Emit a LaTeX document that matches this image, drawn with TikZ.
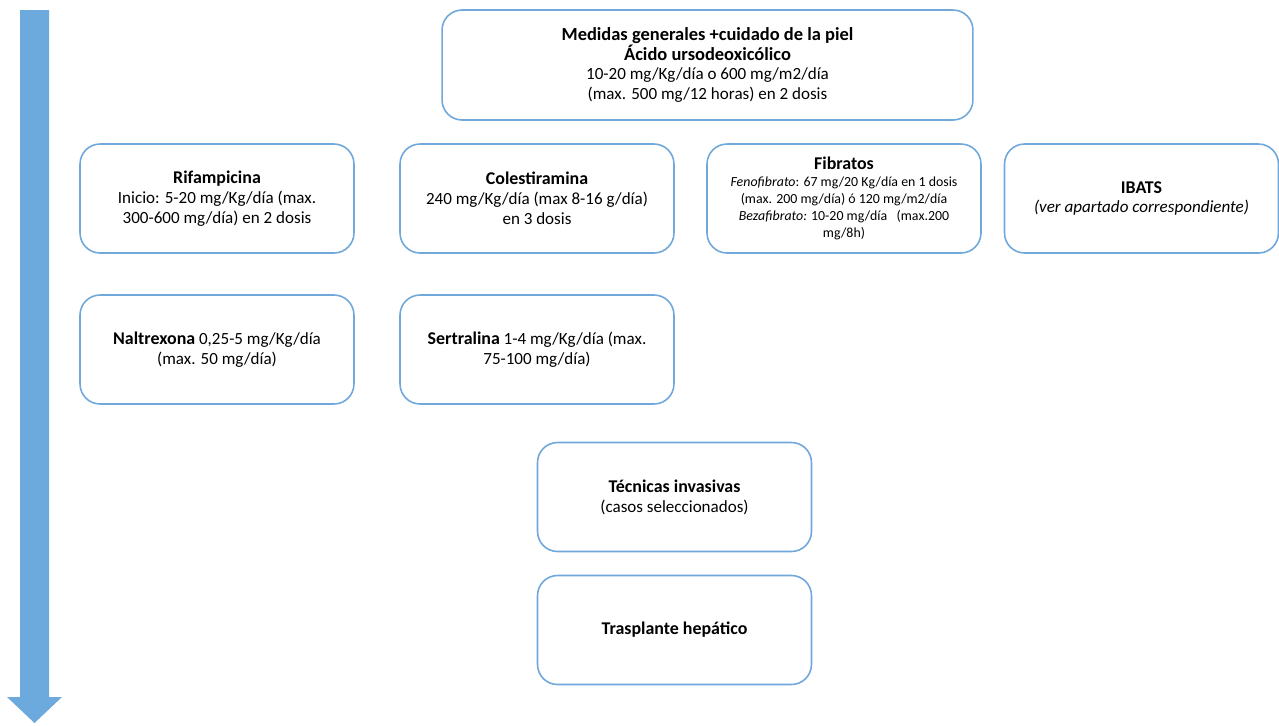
\documentclass[tikz,border=0pt]{standalone}
\usepackage{fontspec}
\setmainfont{Carlito}
\usetikzlibrary{positioning}
\definecolor{boxblue}{RGB}{112,168,220}
\definecolor{arrowblue}{RGB}{108,170,222}

\tikzset{
  stepbox/.style={draw=boxblue,line width=0.9pt,rounded corners=0.4cm,fill=white,
    align=center,minimum width=5.48cm,minimum height=2.18cm,inner sep=2pt,
    font=\fontsize{9.7}{11.3}\selectfont},
  smalltext/.style={font=\fontsize{7.9}{9.6}\selectfont}
}
\newcommand{\steptitle}[1]{{\fontsize{10.2}{11.3}\selectfont\textbf{#1}}}

\begin{document}
\begin{tikzpicture}[x=0.02cm,y=-0.02cm]
\useasboundingbox (0,0) rectangle (1279,725);

% Time arrow
\fill[arrowblue] (20,10) -- (49,10) -- (49,697) -- (62,697) -- (34.5,723)
  -- (7,697) -- (20,697) -- cycle;

% First line
\node[stepbox,minimum width=10.62cm,minimum height=2.2cm] (udca) at (707.5,65)
  {{\fontsize{10.5}{11.5}\selectfont\textbf{Medidas generales +cuidado de la piel}}\\
   {\fontsize{10.5}{11.5}\selectfont\textbf{Ácido ursodeoxicólico}}\\
   10-20 mg/Kg/día o 600 mg/m2/día\\
   (max. 500 mg/12 horas) en 2 dosis};

% Second line
\node[stepbox] (rifa) at (217,198.5)
  {\steptitle{Rifampicina}\\
   Inicio: 5-20 mg/Kg/día (max.\\
   300-600 mg/día) en 2 dosis};
\node[stepbox] (cole) at (537,198.5)
  {\steptitle{Colestiramina}\\
   240 mg/Kg/día (max 8-16 g/día)\\
   en 3 dosis};
\node[stepbox,smalltext] (fibr) at (844,198.5)
  {\steptitle{Fibratos}\\
   \textit{Fenofibrato}: 67 mg/20 Kg/día en 1 dosis\\
   (max. 200 mg/día) ó 120 mg/m2/día\\
   \textit{Bezafibrato:} 10-20 mg/día\ \ \ (max.200\\
   mg/8h)};
\node[stepbox] (ibat) at (1141.5,198.5)
  {\steptitle{IBATS}\\
   \textit{(ver apartado correspondiente)}};

% Third line
\node[stepbox] (nalt) at (217,349.5)
  {\steptitle{Naltrexona} 0,25-5 mg/Kg/día\\
   (max. 50 mg/día)};
\node[stepbox] (sert) at (537,349.5)
  {\steptitle{Sertralina} 1-4 mg/Kg/día (max.\\
   75-100 mg/día)};

% Last steps
\node[stepbox] (inva) at (674.5,497)
  {\steptitle{Técnicas invasivas}\\
   (casos seleccionados)};
\node[stepbox] (tras) at (674.5,630)
  {\steptitle{Trasplante hepático}};
\end{tikzpicture}
\end{document}
